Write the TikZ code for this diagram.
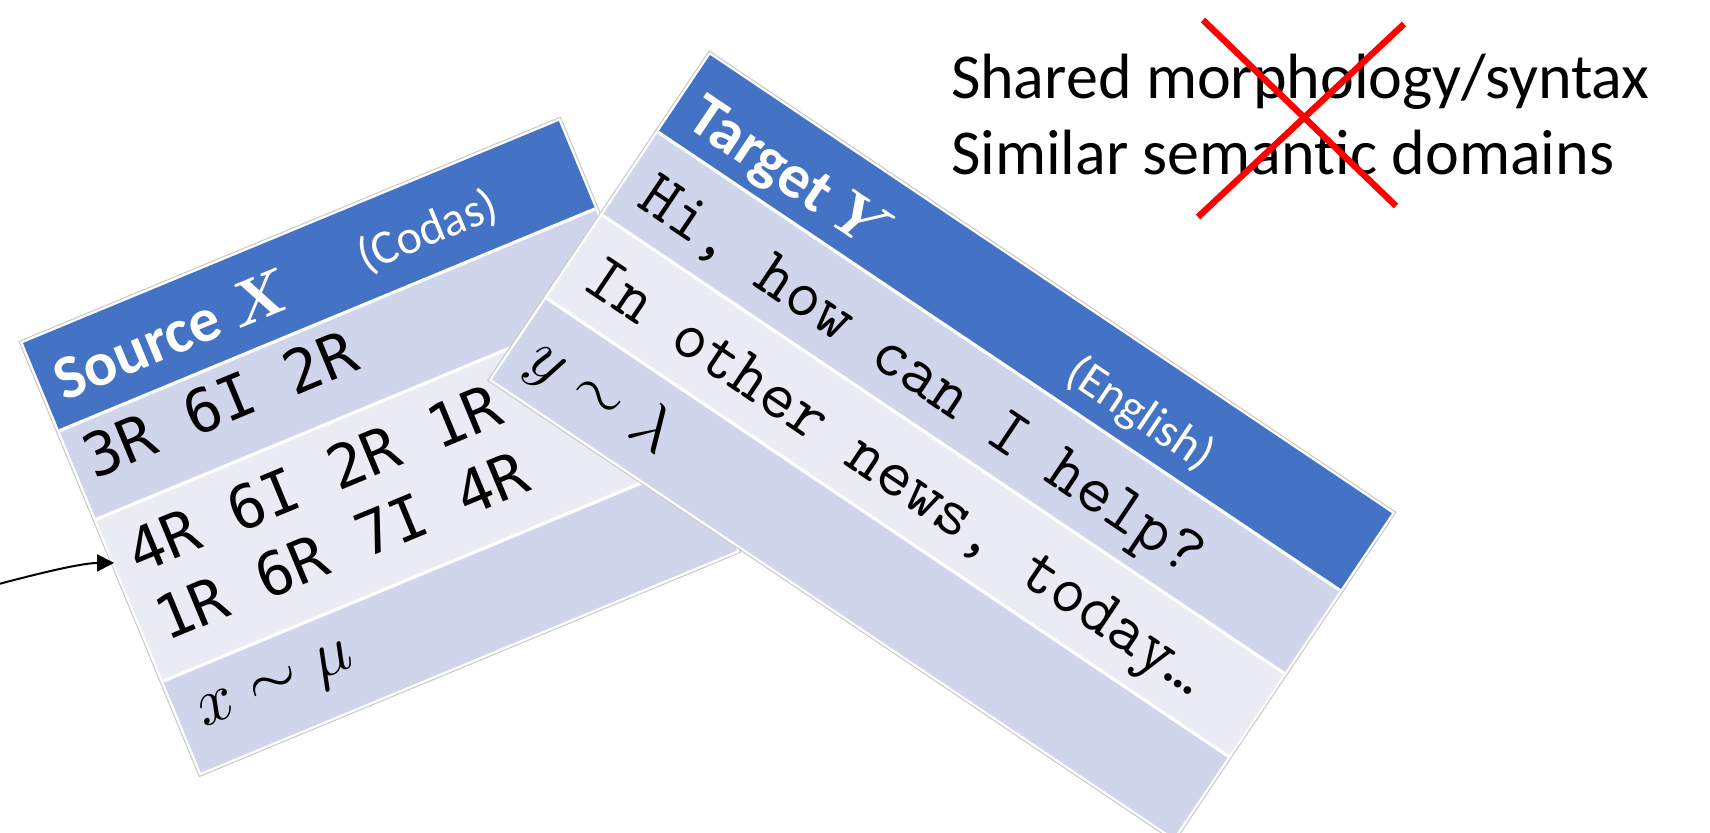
\documentclass[tikz,border=0pt]{standalone}
\usepackage{fontspec}
\usepackage{unicode-math}
\setmainfont{Carlito}
\newfontfamily\srcmono{DejaVu Sans Mono}
\usetikzlibrary{arrows.meta}
\definecolor{hdr}{HTML}{4472C4}
\definecolor{rowdark}{HTML}{CFD5EA}
\definecolor{rowlight}{HTML}{E9EBF5}
\definecolor{edgegray}{HTML}{C8C8C8}
\definecolor{xred}{HTML}{FF0000}
\begin{document}
\begin{tikzpicture}[x=0.5pt,y=-0.5pt,
  tblframe/.style={draw=edgegray, line width=0.5pt, fill=white},
  rowline/.style={draw=white, line width=1.6pt},
  txt/.style={inner sep=0pt, outer sep=0pt, anchor=base west},
  hdrtxt/.style={txt, text=white, font=\fontsize{31}{35}\selectfont\bfseries},
  subtxt/.style={txt, text=white, font=\fontsize{24}{28}\selectfont},
  srctxt/.style={txt, font=\fontsize{30}{34}\srcmono},
  tgttxt/.style={txt, font=\fontsize{34}{38}\selectfont\ttfamily},
  mathtxt/.style={txt, font=\fontsize{33}{37}\selectfont},
  bigtxt/.style={txt, font=\fontsize{32}{38}\selectfont},
  redx/.style={draw=xred, line width=3.2pt},
  arrowline/.style={draw=black, line width=1pt, -{Triangle[length=8.5pt,width=8.5pt]}}
]
\useasboundingbox (0,0) rectangle (1710,832);
\clip (0,0) rectangle (1710,832);

% ---------- Source table ----------
\begin{scope}[shift={(23,343)}, rotate=22.5, transform shape]
  \path[tblframe] (-3,-3) rectangle (583,468);
  \fill[hdr] (0,0) rectangle (580,95);
  \fill[rowdark] (0,95) rectangle (580,191);
  \fill[rowlight] (0,191) rectangle (580,366);
  \fill[rowdark] (0,366) rectangle (580,465);
  \draw[rowline] (0,95) -- (580,95);
  \draw[rowline] (0,191) -- (580,191);
  \draw[rowline] (0,366) -- (580,366);
  \node[hdrtxt] (srchead) at (16,70) {Source $\symbfit{X}$};
  \node[subtxt] (srclang) at (343,66) {(Codas)};
  \node[srctxt] (src1) at (14,153) {3R 6I 2R};
  \node[srctxt] (src2) at (18,258) {4R 6I 2R 1R};
  \node[srctxt] (src3) at (18,331) {1R 6R 7I 4R};
  \node[mathtxt] (srcdist) at (20,425) {$x \sim \mu$};
  \coordinate (srcin) at (0,238);
\end{scope}

% ---------- Target table ----------
\begin{scope}[shift={(710,55)}, rotate=-33.9, transform shape]
  \path[tblframe] (-3,-3) rectangle (824.5,394);
  \fill[hdr] (0,0) rectangle (821.5,93);
  \fill[rowdark] (0,93) rectangle (821.5,193);
  \fill[rowlight] (0,193) rectangle (821.5,293);
  \fill[rowdark] (0,293) rectangle (821.5,391);
  \draw[rowline] (0,93) -- (821.5,93);
  \draw[rowline] (0,193) -- (821.5,193);
  \draw[rowline] (0,293) -- (821.5,293);
  \node[hdrtxt] (tgthead) at (18,73) {Target $\symbfit{Y}$};
  \node[subtxt] (tgtlang) at (474,72) {(English)};
  \node[tgttxt] (tgt1) at (22,167) {Hi, how can I help?};
  \node[tgttxt] (tgt2) at (22,265) {In other news, today…};
  \node[mathtxt] (tgtdist) at (20,362) {$y \sim \lambda$};
\end{scope}

% ---------- Crossed-out text ----------
\node[bigtxt] (shared) at (951,98) {Shared morphology/syntax};
\node[bigtxt] (similar) at (951,174) {Similar semantic domains};
\coordinate (xa1) at (1203,20);
\coordinate (xa2) at (1396,206);
\coordinate (xb1) at (1404,24);
\coordinate (xb2) at (1198,217);
\draw[redx] (xa1) -- (xa2);
\draw[redx] (xb1) -- (xb2);

% ---------- Arrow ----------
\coordinate (arrowstart) at (-5,585);
\draw[arrowline] (arrowstart) .. controls (40,573) and (82,563) .. (srcin);
\end{tikzpicture}
\end{document}
